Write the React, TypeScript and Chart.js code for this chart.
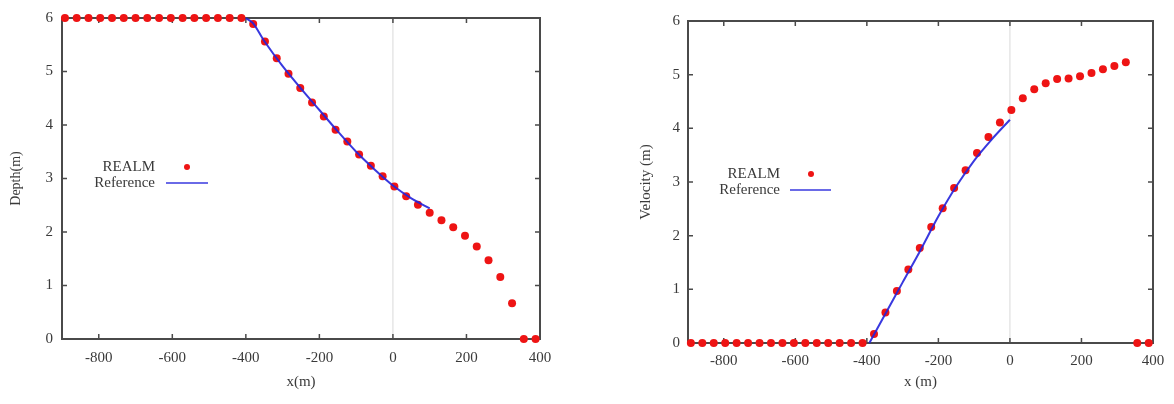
import { useEffect, useRef } from "react";
import { Chart, registerables } from "chart.js";

Chart.register(...registerables);

// Cell-centre positions (m) shared by both REALM profiles
const cellX = [
  -892, -860, -828, -796, -764, -732, -700, -668, -636, -604, -572, -540, -508, -476,
  -444, -412, -380, -348, -316, -284, -252, -220, -188, -156, -124, -92, -60, -28, 4,
  36, 68, 100, 132, 164, 196, 228, 260, 292, 324, 356, 388,
];

// REALM water depth (m)
const depthRealm = [
  6, 6, 6, 6, 6, 6, 6, 6, 6, 6, 6, 6, 6, 6, 6, 6,
  5.89, 5.56, 5.25, 4.96, 4.69, 4.42, 4.16, 3.91, 3.69, 3.45, 3.24, 3.04, 2.85,
  2.67, 2.51, 2.36, 2.22, 2.09, 1.93, 1.73, 1.47, 1.16, 0.67, 0, 0,
];

// REALM velocity
const velocityRealm = [
  0, 0, 0, 0, 0, 0, 0, 0, 0, 0, 0, 0, 0, 0, 0, 0,
  0.17, 0.57, 0.97, 1.37, 1.77, 2.16, 2.51, 2.89, 3.22, 3.54, 3.84, 4.11, 4.34,
  4.56, 4.73, 4.84, 4.92, 4.93, 4.97, 5.03, 5.1, 5.16, 5.23, 0, 0,
];

// Reference depth profile
const depthRefX = [-400, -380, -350, -300, -250, -200, -150, -100, -50, 0, 50, 100];
const depthRefY = [6, 5.9, 5.57, 5.1, 4.68, 4.28, 3.88, 3.5, 3.17, 2.87, 2.63, 2.44];

// Reference velocity profile
const velRefX = [-393, -350, -300, -250, -200, -150, -100, -50, 0];
const velRefY = [0, 0.52, 1.13, 1.73, 2.36, 2.92, 3.4, 3.8, 4.16];

const xTickValues = [-800, -600, -400, -200, 0, 200, 400];
const yTickValues = [0, 1, 2, 3, 4, 5, 6];

const SERIF = '"Liberation Serif", "Times New Roman", serif';
const RED = "#ee1414";
const BLUE = "rgba(34, 34, 220, 0.9)";
const AXIS = "#4a4a4a";
const TEXT = "#3a3a3a";

const framePlugin = {
  id: "frame",
  beforeDatasetsDraw(chart: any) {
    const { ctx, chartArea: a, scales } = chart;
    const xs = scales.x;
    const ys = scales.y;
    const len = 5;
    ctx.save();
    // vertical zero axis
    const zx = xs.getPixelForValue(0);
    ctx.strokeStyle = "#d9d9d9";
    ctx.lineWidth = 1;
    ctx.beginPath();
    ctx.moveTo(zx, a.top);
    ctx.lineTo(zx, a.bottom);
    ctx.stroke();
    // inward tick marks on all four sides
    ctx.strokeStyle = AXIS;
    ctx.lineWidth = 1.5;
    ctx.beginPath();
    for (const t of xs.ticks) {
      const px = xs.getPixelForValue(t.value);
      ctx.moveTo(px, a.bottom);
      ctx.lineTo(px, a.bottom - len);
      ctx.moveTo(px, a.top);
      ctx.lineTo(px, a.top + len);
    }
    for (const t of ys.ticks) {
      const py = ys.getPixelForValue(t.value);
      ctx.moveTo(a.left, py);
      ctx.lineTo(a.left + len, py);
      ctx.moveTo(a.right, py);
      ctx.lineTo(a.right - len, py);
    }
    ctx.stroke();
    // frame
    ctx.lineWidth = 2;
    ctx.strokeRect(a.left, a.top, a.right - a.left, a.bottom - a.top);
    ctx.restore();
  },
  afterDraw(chart: any, _args: any, opts: any) {
    const { ctx } = chart;
    const lg = opts.legend;
    if (!lg) return;
    ctx.save();
    ctx.font = `15px ${SERIF}`;
    ctx.fillStyle = TEXT;
    ctx.textAlign = "right";
    ctx.textBaseline = "middle";
    ctx.fillText("REALM", lg.textRight, lg.row1);
    ctx.fillText("Reference", lg.textRight, lg.row2);
    ctx.fillStyle = RED;
    ctx.beginPath();
    ctx.arc(lg.dotX, lg.row1, 3, 0, Math.PI * 2);
    ctx.fill();
    ctx.strokeStyle = BLUE;
    ctx.lineWidth = 1.5;
    ctx.beginPath();
    ctx.moveTo(lg.lineX0, lg.row2);
    ctx.lineTo(lg.lineX1, lg.row2);
    ctx.stroke();
    ctx.restore();
  },
};

type PanelProps = {
  left: number;
  yTitle: string;
  yTitleSize: number;
  xTitle: string;
  realm: number[];
  refX: number[];
  refY: number[];
  area: { l: number; t: number; r: number; b: number };
  padLeft: number;
  yTickPad: number;
  xTickPad: number;
  legend: any;
};

const W = 587;
const H = 404;

function Panel(p: PanelProps) {
  const ref = useRef<HTMLCanvasElement | null>(null);
  useEffect(() => {
    if (!ref.current) return;
    const chart = new Chart(ref.current, {
      type: "scatter",
      data: {
        datasets: [
          {
            label: "Reference",
            data: p.refX.map((x, i) => ({ x, y: p.refY[i] })),
            showLine: true,
            borderColor: BLUE,
            borderWidth: 2,
            pointRadius: 0,
            tension: 0.3,
            clip: false,
          } as any,
          {
            label: "REALM",
            data: cellX.map((x, i) => ({ x, y: p.realm[i] })),
            pointRadius: 4,
            pointBackgroundColor: RED,
            pointBorderWidth: 0,
            borderColor: RED,
            clip: false,
          } as any,
        ],
      },
      options: {
        animation: false,
        responsive: false,
        devicePixelRatio: 1,
        layout: {
          padding: { left: p.padLeft, top: p.area.t, right: W - p.area.r, bottom: 0 },
        },
        plugins: {
          legend: { display: false },
          tooltip: { enabled: false },
          frame: { legend: p.legend },
        } as any,
        scales: {
          x: {
            type: "linear",
            min: -900,
            max: 400,
            grid: { display: false, drawTicks: false },
            border: { display: false },
            afterBuildTicks: (s: any) => {
              s.ticks = xTickValues.map((v) => ({ value: v }));
            },
            afterFit: (s: any) => {
              s.height = H - p.area.b;
            },
            ticks: {
              color: TEXT,
              font: { family: SERIF, size: 15 },
              padding: p.xTickPad,
              maxRotation: 0,
              autoSkip: false,
              callback: (v: any) => String(v),
            },
            title: {
              display: true,
              text: p.xTitle,
              color: TEXT,
              font: { family: SERIF, size: 15 },
              padding: { top: 0, bottom: 13 },
            },
          },
          y: {
            type: "linear",
            min: 0,
            max: 6,
            grid: { display: false, drawTicks: false },
            border: { display: false },
            afterBuildTicks: (s: any) => {
              s.ticks = yTickValues.map((v) => ({ value: v }));
            },
            afterFit: (s: any) => {
              s.width = p.area.l - p.padLeft;
            },
            ticks: {
              color: TEXT,
              font: { family: SERIF, size: 15 },
              padding: p.yTickPad,
              callback: (v: any) => String(v),
            },
            title: {
              display: true,
              text: p.yTitle,
              color: TEXT,
              font: { family: SERIF, size: p.yTitleSize },
              padding: { top: 4, bottom: 0 },
            },
          },
        },
      },
      plugins: [framePlugin],
    });
    return () => chart.destroy();
  }, []);
  return (
    <div style={{ position: "absolute", left: p.left, top: 0, width: W, height: H }}>
      <canvas ref={ref} width={W} height={H} style={{ display: "block" }} />
    </div>
  );
}

export default function App() {
  return (
    <div
      style={{
        position: "absolute",
        left: 0,
        top: 0,
        width: 1174,
        height: 404,
        background: "#ffffff",
        overflow: "hidden",
      }}
    >
      <Panel
        left={0}
        yTitle="Depth(m)"
        yTitleSize={14}
        xTitle="x(m)"
        realm={depthRealm}
        refX={depthRefX}
        refY={depthRefY}
        area={{ l: 62, t: 9.5, r: 540, b: 339 }}
        padLeft={4}
        yTickPad={9}
        xTickPad={10}
        legend={{ textRight: 155, row1: 167, row2: 183, dotX: 187, lineX0: 166, lineX1: 208 }}
      />
      <Panel
        left={587}
        yTitle="Velocity (m)"
        yTitleSize={15}
        xTitle="x (m)"
        realm={velocityRealm}
        refX={velRefX}
        refY={velRefY}
        area={{ l: 101, t: 21, r: 566, b: 343 }}
        padLeft={46}
        yTickPad={8}
        xTickPad={9}
        legend={{ textRight: 193, row1: 174, row2: 190, dotX: 224, lineX0: 203, lineX1: 244 }}
      />
    </div>
  );
}
